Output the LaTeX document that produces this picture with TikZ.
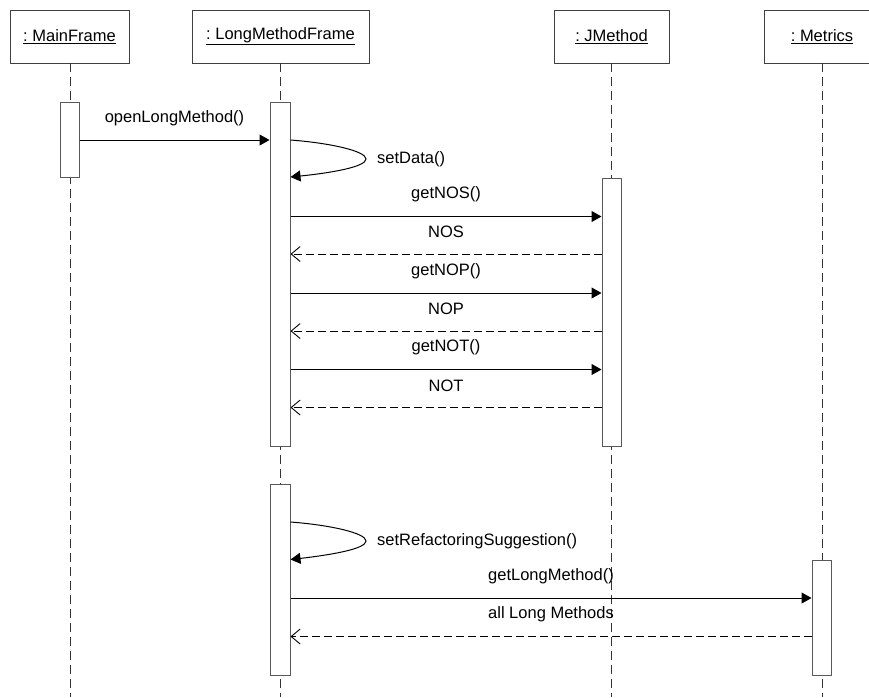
\documentclass[tikz,border=0pt]{standalone}
\usepackage{fontspec}
\setmainfont{Liberation Sans}
\usetikzlibrary{arrows.meta}
\frenchspacing
\begin{document}
\begin{tikzpicture}[x=1pt,y=-1pt,
  every node/.style={font=\fontsize{16.5}{20}\selectfont, inner sep=0pt},
  objbox/.style={draw=black!75, line width=1pt, fill=white, minimum height=53pt},
  actbar/.style={draw=black!65, line width=1pt, fill=white},
  lifeline/.style={draw=black!80, line width=1pt, dash pattern=on 9pt off 5pt},
  call/.style={draw=black, line width=1pt, -{Triangle[length=10pt,width=11pt]}},
  reply/.style={draw=black, line width=0.9pt, dash pattern=on 8pt off 4pt, -{Straight Barb[length=9pt,width=15pt]}},
  msg/.style={yshift=22pt}]
\clip (0,0) rectangle (869,697);
\fill[white] (0,0) rectangle (869,697);
% objects
\node[objbox, minimum width=119pt] (mf) at (69.5,36.5) {\underline{: MainFrame}};
\node[objbox, minimum width=177pt] (lmf) at (280.5,36.5) {\underline{: LongMethodFrame}};
\node[objbox, minimum width=115pt] (jm) at (611.5,36.5) {\underline{: JMethod}};
\node[objbox, minimum width=116pt] (me) at (822,36.5) {\underline{: Metrics}};
% lifelines
\draw[lifeline] (70,63) -- (70,697);
\draw[lifeline] (280,63) -- (280,697);
\draw[lifeline] (611.5,63) -- (611.5,697);
\draw[lifeline] (822,63) -- (822,697);
% activations
\node[actbar, minimum width=19pt, minimum height=75pt] (mfA) at (69.5,139.5) {};
\node[actbar, minimum width=20pt, minimum height=344pt] (lmfA1) at (280,274) {};
\node[actbar, minimum width=20pt, minimum height=191pt] (lmfA2) at (280,579.5) {};
\node[actbar, minimum width=19pt, minimum height=268pt] (jmA) at (611.5,312) {};
\node[actbar, minimum width=19pt, minimum height=115pt] (meA) at (821.5,617.5) {};
% message levels
\coordinate (m1) at (0,140);
\coordinate (s1a) at (0,140);
\coordinate (s1b) at (0,177);
\coordinate (m2) at (0,216.5);
\coordinate (m3) at (0,254);
\coordinate (m4) at (0,293);
\coordinate (m5) at (0,331);
\coordinate (m6) at (0,369.5);
\coordinate (m7) at (0,407.5);
\coordinate (s2a) at (0,522);
\coordinate (s2b) at (0,559.5);
\coordinate (m8) at (0,598);
\coordinate (m9) at (0,636.5);
% messages
\draw[call] (mfA.east |- m1) -- node[msg] {openLongMethod()} (lmfA1.west |- m1);
\draw[call] (lmfA1.east |- s1a) .. controls (330,143) and (366,151) .. (366,159) .. controls (366,167) and (330,173) .. (lmfA1.east |- s1b);
\node[anchor=west] (sd) at (377,159) {setData()};
\draw[call] (lmfA1.east |- m2) -- node[msg] {getNOS()} (jmA.west |- m2);
\draw[reply] (jmA.west |- m3) -- node[msg] {NOS} (lmfA1.east |- m3);
\draw[call] (lmfA1.east |- m4) -- node[msg] {getNOP()} (jmA.west |- m4);
\draw[reply] (jmA.west |- m5) -- node[msg] {NOP} (lmfA1.east |- m5);
\draw[call] (lmfA1.east |- m6) -- node[msg] {getNOT()} (jmA.west |- m6);
\draw[reply] (jmA.west |- m7) -- node[msg] {NOT} (lmfA1.east |- m7);
\draw[call] (lmfA2.east |- s2a) .. controls (330,525) and (366,533) .. (366,541) .. controls (366,549) and (330,555) .. (lmfA2.east |- s2b);
\node[anchor=west] (srs) at (377,541.5) {setRefactoringSuggestion()};
\draw[call] (lmfA2.east |- m8) -- node[msg] {getLongMethod()} (meA.west |- m8);
\draw[reply] (meA.west |- m9) -- node[msg] {all Long Methods} (lmfA2.east |- m9);
\end{tikzpicture}
\end{document}
